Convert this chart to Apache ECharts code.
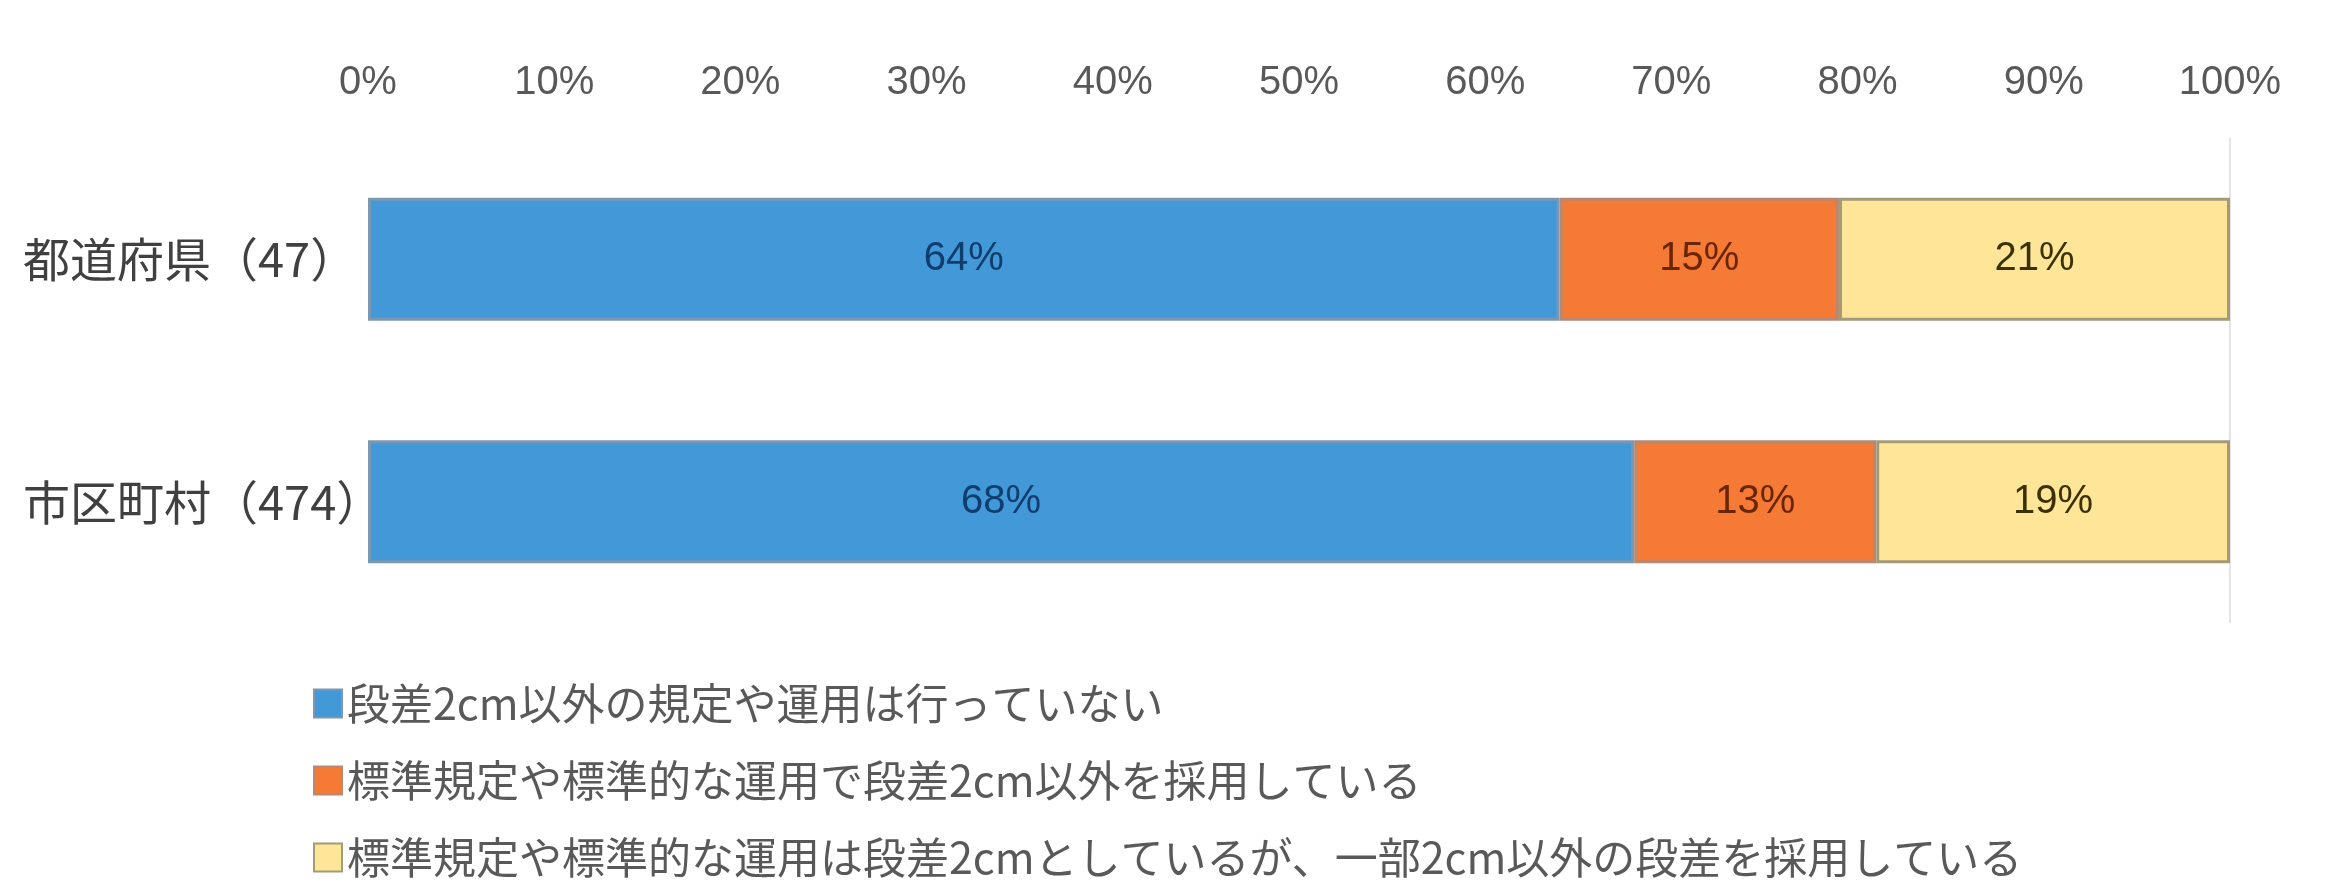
<!DOCTYPE html>
<html>
<head>
<meta charset="utf-8">
<script src="https://cdn.jsdelivr.net/npm/echarts@6/dist/echarts.min.js"></script>
<style>
html,body{margin:0;padding:0;background:#fff;}
#chart{width:2339px;height:882px;}
</style>
</head>
<body>
<div id="chart"></div>
<script>
const categories = ['都道府県（47）', '市区町村（474）'];
const seriesNames = [
  '段差2cm以外の規定や運用は行っていない',
  '標準規定や標準的な運用で段差2cm以外を採用している',
  '標準規定や標準的な運用は段差2cmとしているが、一部2cm以外の段差を採用している'
];
const valuesNone = [64, 68];
const valuesStandardOther = [15, 13];
const valuesPartialOther = [21, 19];
const tickValues = [0, 10, 20, 30, 40, 50, 60, 70, 80, 90, 100];

const colors = ['#4398d8', '#f57a35', '#fee597'];
const borders = ['#7b98b2', '#b98870', '#a39b78'];
const labelColors = ['#0f3d6e', '#6b2400', '#3a3000'];
const dataSets = [valuesNone, valuesStandardOther, valuesPartialOther];

const numFont = '"Liberation Sans Narrow", "Liberation Sans", "Noto Sans", sans-serif';
const jpFont = '"Noto Sans CJK JP", "Noto Sans", sans-serif';

const splitColors = tickValues.map(v => v === 100 ? '#e4e4e4' : 'rgba(0,0,0,0)');

const chart = echarts.init(document.getElementById('chart'), null, {renderer: 'canvas'});
chart.setOption({
  backgroundColor: '#ffffff',
  animation: false,
  grid: {left: 368, right: 109, top: 138, bottom: 259, containLabel: false},
  xAxis: {
    type: 'value',
    position: 'top',
    min: 0, max: 100, interval: 10,
    axisLine: {show: false},
    axisTick: {show: false},
    splitLine: {show: true, lineStyle: {color: splitColors, width: 2}},
    axisLabel: {
      formatter: '{value}%',
      margin: 35,
      color: '#595959',
      fontFamily: numFont,
      fontSize: 40
    }
  },
  yAxis: {
    type: 'category',
    data: categories,
    inverse: true,
    axisLine: {show: false},
    axisTick: {show: false},
    axisLabel: {
      align: 'left',
      margin: 345,
      color: '#404040',
      fontFamily: jpFont,
      fontSize: 47
    }
  },
  legend: {
    orient: 'vertical',
    left: 313,
    top: 682,
    height: 300,
    padding: 0,
    itemWidth: 28,
    itemHeight: 28,
    itemGap: 34,
    icon: 'rect',
    textStyle: {color: '#595959', fontFamily: jpFont, fontSize: 43},
    data: seriesNames
  },
  series: dataSets.map((d, i) => ({
    name: seriesNames[i],
    type: 'bar',
    stack: 'total',
    barWidth: 123,
    data: d,
    itemStyle: {color: colors[i], borderColor: borders[i], borderWidth: 3},
    label: {
      show: true,
      position: 'inside',
      formatter: '{c}%',
      color: labelColors[i],
      fontFamily: numFont,
      fontSize: 40
    }
  }))
});
</script>
</body>
</html>
